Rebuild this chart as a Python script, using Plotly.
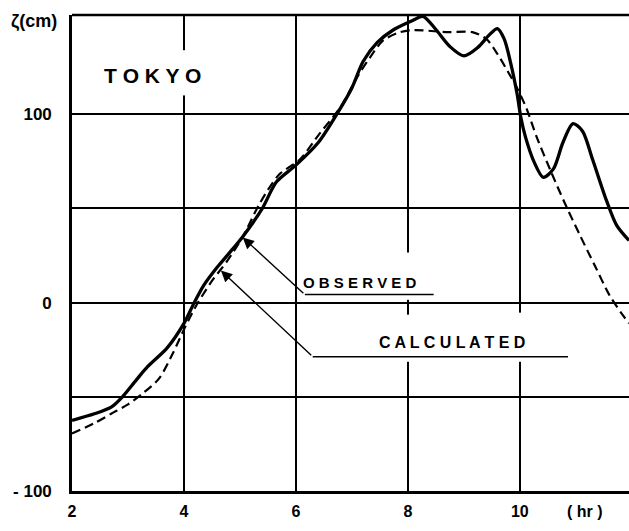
import plotly.graph_objects as go

# ---- data (hours, cm) ----
obs_hr = [2.0, 2.4, 2.7, 2.9, 3.15, 3.35, 3.7, 4.0, 4.15, 4.35, 4.6, 4.8, 5.05, 5.4, 5.65,
          6.0, 6.4, 6.75, 7.0, 7.2, 7.45, 7.75, 8.1, 8.27, 8.5, 8.75, 9.0, 9.25, 9.45, 9.6,
          9.72, 9.83, 9.95, 10.02, 10.1, 10.25, 10.42, 10.6, 10.77, 10.95, 11.12, 11.3,
          11.55, 11.73, 11.95]
obs_cm = [-62.5, -59, -55.5, -50, -41, -34, -24, -11, -2, 9, 19, 26, 35, 50, 64,
          73, 85, 101, 114, 128, 138, 145, 150, 152, 145, 136, 131, 135.5, 142, 145.5,
          140, 128, 111, 98, 88, 75, 66.5, 71, 85, 95, 91, 76,
          54, 41, 33]

calc_hr = [2.0, 2.4, 2.7, 3.0, 3.25, 3.55, 3.8, 4.02, 4.23, 4.5, 4.77, 5.05, 5.36, 5.7,
           6.07, 6.43, 6.8, 7.1, 7.32, 7.55, 7.85, 8.1, 8.7, 9.15, 9.4, 9.6, 9.78, 9.95,
           10.12, 10.3, 10.55, 10.8, 11.07, 11.35, 11.6, 11.8, 11.95]
calc_cm = [-69.5, -64, -59, -54, -48.5, -40.5, -27, -13, -1, 11.5, 22, 35, 53, 68,
           76, 90, 104, 120, 130, 139, 143.5, 144.7, 143.6, 143.6, 140, 132, 123, 114,
           103, 88, 70, 53, 36, 19, 4, -5, -11]

x_ticks = [2, 4, 6, 8, 10]
x_ticktext = ["2", "4", "6", "8", "10"]
y_ticks = [-100, -50, 0, 50, 100]
y_ticktext = ["- 100", "", "0", "", "100"]

FONT = "Liberation Sans"

fig = go.Figure()
fig.add_trace(go.Scatter(x=calc_hr, y=calc_cm, mode="lines",
                         line=dict(color="black", width=2.2, dash="9px,5px",
                                   shape="spline", smoothing=0.8),
                         showlegend=False, hoverinfo="skip"))
fig.add_trace(go.Scatter(x=obs_hr, y=obs_cm, mode="lines",
                         line=dict(color="black", width=3.3,
                                   shape="spline", smoothing=0.8),
                         showlegend=False, hoverinfo="skip"))

fig.update_layout(
    width=629, height=531,
    margin=dict(l=72, r=0, t=15, b=40),
    paper_bgcolor="white", plot_bgcolor="white",
    font=dict(family=FONT, color="black"),
    xaxis=dict(range=[2, 11.95], tickvals=x_ticks, ticktext=x_ticktext,
               showgrid=True, gridcolor="black", gridwidth=1.8,
               showline=True, linecolor="black", linewidth=2.6,
               zeroline=False, ticks="", ticklabelstandoff=4,
               tickfont=dict(size=16, family=FONT, weight="bold")),
    yaxis=dict(range=[-100, 152.7], tickvals=y_ticks, ticktext=y_ticktext,
               showgrid=True, gridcolor="black", gridwidth=1.8,
               showline=True, linecolor="black", linewidth=2.6,
               zeroline=False, ticks="", ticklabelstandoff=14,
               tickfont=dict(size=17, family=FONT, weight="bold")),
)

# top frame line
fig.add_shape(type="line", xref="paper", yref="paper", x0=0, x1=1, y0=1, y1=1,
              line=dict(color="black", width=2.6), layer="above")

# gaps in hand-drawn grid lines around lettering
for (gx, y0, y1) in [(4, 110, 134), (8, 1.5, 26.6), (8, -31.4, -6.4), (10, -31.4, -5.3)]:
    fig.add_shape(type="rect", xref="x", yref="y", x0=gx - 0.09, x1=gx + 0.09,
                  y0=y0, y1=y1, fillcolor="white", line=dict(width=0), layer="between")

# underlines for labels
fig.add_shape(type="line", xref="x", yref="y", x0=6.16, x1=8.46, y0=4.3, y1=4.3,
              line=dict(color="black", width=1.6), layer="above")
fig.add_shape(type="line", xref="x", yref="y", x0=6.30, x1=10.86, y0=-28.7, y1=-28.7,
              line=dict(color="black", width=1.6), layer="above")

# leader arrows
fig.add_annotation(x=5.05, y=34.6, ax=6.16, ay=4.3, xref="x", yref="y", axref="x", ayref="y",
                   text="", showarrow=True, arrowhead=2, arrowsize=1.6, arrowwidth=1.4,
                   arrowcolor="black", standoff=0)
fig.add_annotation(x=4.66, y=17, ax=6.30, ay=-28.7, xref="x", yref="y", axref="x", ayref="y",
                   text="", showarrow=True, arrowhead=2, arrowsize=1.6, arrowwidth=1.4,
                   arrowcolor="black", standoff=0)

# labels
fig.add_annotation(x=7.14, y=10.6, xref="x", yref="y", text="O B S E R V E D", showarrow=False,
                   font=dict(size=15, family=FONT, weight="bold"))
fig.add_annotation(x=8.79, y=-21.3, xref="x", yref="y", text="C A L C U L A T E D", showarrow=False,
                   font=dict(size=16, family=FONT, weight="bold"))
fig.add_annotation(x=3.43, y=120.7, xref="x", yref="y", text="T O K Y O", showarrow=False,
                   font=dict(size=21, family=FONT, weight="bold"))
fig.add_annotation(x=11.16, y=-0.044, xref="x", yref="paper", text="( hr )", showarrow=False,
                   xanchor="center", yanchor="middle",
                   font=dict(size=16, family=FONT, weight="bold"))
fig.add_annotation(x=-0.068, y=149, xref="paper", yref="y",
                   text="ζ(cm)", showarrow=False, xanchor="center", yanchor="middle",
                   font=dict(size=18, family=FONT, weight="bold"))

fig.write_html("out.html")
